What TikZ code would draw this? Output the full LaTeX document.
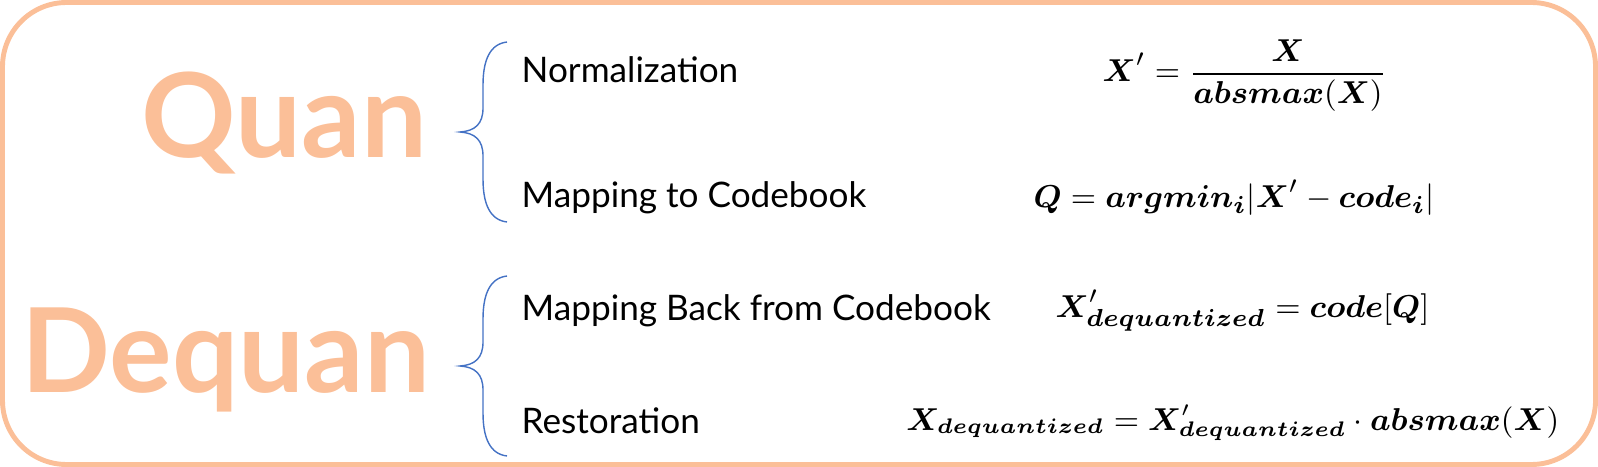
\documentclass[tikz,border=0pt]{standalone}
\usepackage{amsmath,amssymb}
\usepackage{bm}
\usepackage{fontspec}
\setmainfont{Lato}
\usetikzlibrary{positioning}
\definecolor{quanOrange}{RGB}{251,191,152}
\definecolor{braceBlue}{RGB}{68,114,196}

\begin{document}
\begin{tikzpicture}[x=0.01cm,y=-0.01cm,
    biglabel/.style={text=quanOrange, font=\fontsize{33.3}{36}\selectfont\bfseries, inner sep=0pt, anchor=base east},
    itemlabel/.style={font=\fontsize{10}{12}\selectfont, inner sep=0pt, anchor=base west},
    eqlabel/.style={font=\fontsize{9.4}{11}\selectfont, inner sep=0pt, anchor=base west}]
    \useasboundingbox (0,0) rectangle (1598,467);
    \draw[quanOrange, line width=1.4pt, rounded corners=0.64cm] (2.5,2.5) rectangle (1595.5,464.5);

    % braces
    \begin{scope}[shift={(0,0)}]
        \draw[braceBlue, line width=0.4pt]
            (507,42) .. controls (490,44) and (483,60) .. (483,85) -- (483,108)
            .. controls (483,124) and (475,131) .. (460,132)
            .. controls (475,133) and (483,140) .. (483,156) -- (483,179)
            .. controls (483,204) and (490,220) .. (507,222);
    \end{scope}
    \begin{scope}[shift={(0,234)}]
        \draw[braceBlue, line width=0.4pt]
            (507,42) .. controls (490,44) and (483,60) .. (483,85) -- (483,108)
            .. controls (483,124) and (475,131) .. (460,132)
            .. controls (475,133) and (483,140) .. (483,156) -- (483,179)
            .. controls (483,204) and (490,220) .. (507,222);
    \end{scope}

    \node[biglabel] (quan) at (428,157) {Quan};
    \node[biglabel] (dequan) at (431,392) {Dequan};

    \node[itemlabel] (norm) at (521,83) {Normalization};
    \node[itemlabel] (map) at (521,207) {Mapping to Codebook};
    \node[itemlabel] (mapback) at (521,320) {Mapping Back from Codebook};
    \node[itemlabel] (restore) at (521,433) {Restoration};

    \node[eqlabel] (normeq) at (1102,82)
        {$\displaystyle \bm{X}' = \frac{\bm{X}}{\bm{absmax}(\bm{X})}$};
    \node[eqlabel] (mapeq) at (1033,207)
        {$\bm{Q} = \bm{argmin}_{\bm{i}}|\bm{X}' - \bm{code}_{\bm{i}}|$};
    \node[eqlabel] (backeq) at (1055,317)
        {$\bm{X}'_{\bm{dequantized}} = \bm{code}[\bm{Q}]$};
    \node[eqlabel, anchor=base east, font=\fontsize{9}{11}\selectfont] (restoreeq) at (1560,430)
        {$\bm{X}_{\bm{dequantized}} = \bm{X}'_{\bm{dequantized}} \cdot \bm{absmax}(\bm{X})$};
\end{tikzpicture}
\end{document}
